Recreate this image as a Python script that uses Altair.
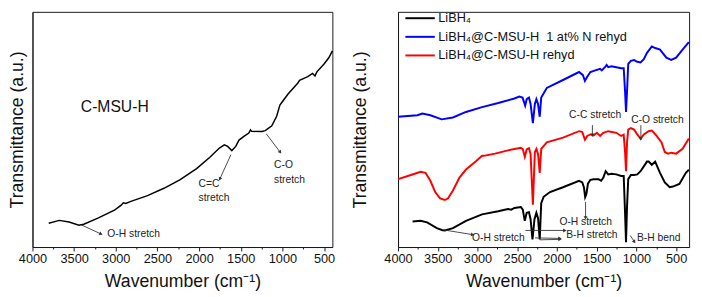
import math
import altair as alt
import pandas as pd

FONT = "Liberation Sans"

# ---------------- data ----------------
# left panel: C-MSU-H
cmsu_wn = [3805, 3679, 3561, 3443, 3384, 3208, 3011, 2935, 2910, 2880, 2819, 2619, 2422, 2227,
           2030, 1874, 1756, 1697, 1657, 1607, 1560, 1521, 1462, 1403, 1383, 1370, 1245, 1206,
           1127, 1069, 1030, 1003, 932, 814, 794, 696, 638, 609, 586, 500, 441, 400]
cmsu_t = [25, 28, 26.3, 23, 24, 30.7, 39, 44, 46.5, 45.8, 48, 54, 61.7, 70.7,
          82.3, 94, 104, 107.3, 105.7, 101.3, 105.7, 112.3, 116.3, 119.7, 123, 121.5, 121.3, 122.3,
          127.3, 137.3, 149, 152.3, 160.7, 172.3, 175, 179, 182.3, 179.7, 184, 192.3, 199, 206]

# right panel
series_names = ["LiBH\u2084", "LiBH\u2084@C-MSU-H \u00a01 at% N rehyd", "LiBH\u2084@C-MSU-H rehyd"]
series_colors = ["#000000", "#0000ff", "#ff0000"]

libh4_wn = [3817, 3716, 3634, 3512, 3440, 3410, 3309, 3145, 2943, 2739, 2617, 2576, 2535, 2454,
            2430, 2405, 2381, 2352, 2332, 2308, 2283, 2259, 2238, 2217, 2198, 2168, 2088, 1924,
            1722, 1681, 1660, 1645, 1630, 1610, 1579, 1538, 1477, 1444, 1416, 1387, 1355, 1314,
            1253, 1192, 1160, 1143, 1131, 1118, 1103, 1070, 1029, 989, 948, 907, 867, 846, 806,
            764, 703, 643, 581, 541, 459, 378, 340]
libh4_t = [26.7, 27.3, 25.7, 19.7, 17.5, 17.3, 19.7, 27.3, 34, 37.3, 39.7, 39, 40.7, 41.7,
           39, 27.3, 35.7, 36.3, 29, 8, 29, 35.7, 30, 8, 45.7, 52.3, 57.3, 62.3,
           69, 67.3, 62, 52, 55, 66, 70, 70.7, 70.7, 69, 72.3, 79, 75.7, 76.3,
           75.7, 74, 74, 35.7, 5, 42.3, 70.7, 75, 75, 75.7, 79, 84, 89, 89, 85.7,
           89, 77.3, 67.3, 62.3, 63, 65.7, 77.3, 80.5]

n_rehyd_wn = [4000, 3756, 3695, 3593, 3451, 3309, 3145, 2943, 2739, 2535, 2474, 2433, 2413, 2400,
              2381, 2352, 2332, 2303, 2278, 2259, 2238, 2217, 2198, 2128, 1924, 1722, 1673, 1648,
              1619, 1579, 1518, 1457, 1436, 1396, 1375, 1355, 1314, 1253, 1192, 1160, 1143, 1131,
              1118, 1103, 1070, 1029, 989, 948, 907, 867, 806, 764, 703, 623, 562, 500, 419, 340]
n_rehyd_t = [135.7, 137.3, 139, 137.3, 133, 135, 140.7, 145.7, 150, 154.7, 156.7, 155.7, 150.7, 147.3,
             154, 155.7, 149, 129, 149, 154, 149, 135.7, 155.7, 165.7, 174, 182.3, 179, 173,
             177.3, 182.3, 184, 185.7, 184, 187.3, 189.7, 187.3, 188.3, 187.3, 186.3, 186.3, 162.3, 140.7,
             162.3, 190.7, 194, 194.7, 193, 192.3, 195.7, 202.3, 209, 207.3, 205.7, 197.3, 195, 197.3, 205.7, 213.5]

rehyd_wn = [4000, 3838, 3716, 3654, 3593, 3532, 3471, 3410, 3370, 3309, 3227, 3145, 3023, 2943,
            2922, 2779, 2617, 2454, 2430, 2405, 2381, 2352, 2332, 2303, 2278, 2259, 2238, 2217,
            2198, 2128, 1924, 1722, 1681, 1648, 1619, 1579, 1538, 1497, 1457, 1416, 1355, 1253,
            1192, 1160, 1143, 1131, 1118, 1103, 1070, 1029, 989, 948, 907, 846, 806, 745, 684,
            643, 602, 562, 500, 419, 340]
rehyd_t = [70.7, 75, 78.3, 77.3, 69, 57.3, 50.7, 49, 50.7, 59, 72.3, 80.7, 89, 95,
           95, 97.3, 100.7, 103.3, 102, 94, 101.7, 103, 97, 44, 99, 102.3, 97, 77.3,
           102.3, 109, 114, 120.7, 119.7, 111.7, 115.7, 117.3, 116.3, 119, 115.7, 119, 120.7, 119,
           115.7, 117, 99, 79, 109, 122.3, 124, 122.3, 117.3, 113, 117.3, 120.7, 121.3, 115.7, 109,
           99, 97.3, 98.3, 97.3, 102.3, 113]

# annotations: left panel
left_label = ["C-MSU-H"]
left_label_wn = [3420]
left_label_t = [147]
left_notes = ["C=C", "stretch", "C-O", "stretch", "O-H stretch"]
left_notes_wn = [2007, 2007, 1100, 1100, 3102]
left_notes_t = [66, 51, 86, 70, 14]
left_arrow_wn1 = [3408, 1618, 1194]
left_arrow_t1 = [23, 97, 119]
left_arrow_wn2 = [3184, 1748, 1030]
left_arrow_t2 = [14, 72, 100]

# annotations: right panel
right_notes = ["C-C stretch", "C-O stretch", "O-H stretch", "B-H stretch", "B-H bend", "O-H stretch"]
right_notes_wn = [1847, 1066, 1969, 1884, 993, 3068]
right_notes_t = [137, 132, 26, 13, 9, 9]
right_arrow_wn1 = [1554, 944, 1640, 2397, 2275, 2215, 1078, 3435]
right_arrow_t1 = [127, 127, 47, 17.3, 9.5, 7.5, 12, 18]
right_arrow_wn2 = [1554, 944, 1640, 1908, 1969, 1969, 1029, 3068]
right_arrow_t2 = [117, 113, 31, 17.3, 9, 8, 6, 13]

# ---------------- layout ----------------
LW, RW, H = 306, 297, 240
L_DOM, R_DOM = [4000, 400], [4000, 337]
L_Y, R_Y = [0, 247], [0, 245]
L_TICKS = list(range(4000, 399, -250))
R_TICKS = list(range(4000, 336, -250))
XTITLE = "Wavenumber (cm\u207b\u00b9)"
YTITLE = "Transmittance (a.u.)"
INK = "#1a1a1a"


def xaxis(vals):
    return alt.Axis(values=vals, format="d",
                    labelExpr="datum.value % 500 === 0 ? datum.label : ''",
                    tickSize={"condition": {"test": "datum.value % 500 === 0", "value": 4}, "value": 2},
                    labelOverlap=False, labelFlush=False, grid=False,
                    labelFontSize=13, labelPadding=2, titleFontSize=18, titlePadding=7,
                    titleFontWeight="normal")


def yaxis(pad):
    return alt.Axis(labels=False, ticks=False, grid=False, title=YTITLE,
                    titleFontSize=18, titlePadding=pad, titleFontWeight="normal")


def arrow_frames(wn1, t1, wn2, t2, dom, ydom, width):
    kx = width / (dom[0] - dom[1])
    ky = H / (ydom[1] - ydom[0])
    angs = []
    for a, b, c, d in zip(wn1, t1, wn2, t2):
        dx = (a - c) * kx
        dy = (b - d) * ky
        angs.append(math.degrees(math.atan2(dx, -dy)) % 360)
    rules = pd.DataFrame({"wn": wn1, "t": t1, "wn2": wn2, "t2": t2})
    heads = pd.DataFrame({"wn": wn2, "t": t2, "ang": angs})
    return rules, heads


def panel(lines, color_enc, notes, label, arrows, dom, ydom, width, ypad, lw):
    X = alt.X("wn:Q", scale=alt.Scale(domain=dom, nice=False, zero=False), axis=xaxis(
        L_TICKS if dom == L_DOM else R_TICKS), title=XTITLE)
    Y = alt.Y("t:Q", scale=alt.Scale(domain=ydom, nice=False, zero=False), axis=yaxis(ypad))
    enc = {"x": X, "y": Y}
    if color_enc is not None:
        enc["color"] = color_enc
        enc["detail"] = "series:N"
    line = alt.Chart(lines).mark_line(strokeWidth=lw, color="black").encode(**enc)
    layers = [line]
    rules, heads = arrows
    layers.append(alt.Chart(rules).mark_rule(color="#333", strokeWidth=0.9).encode(
        x=X, y=Y, x2="wn2:Q", y2="t2:Q"))
    layers.append(alt.Chart(heads).mark_point(shape="triangle", filled=True, size=16,
                                              color="#333", opacity=1).encode(
        x=X, y=Y, angle=alt.Angle("ang:Q", scale=None)))
    layers.append(alt.Chart(notes).mark_text(align="left", baseline="middle", font=FONT,
                                             fontSize=10.5, color="#222").encode(
        x=X, y=Y, text="txt:N"))
    if label is not None:
        layers.append(alt.Chart(label).mark_text(align="left", baseline="middle", font=FONT,
                                                 fontSize=16, color="#111").encode(
            x=X, y=Y, text="txt:N"))
    return alt.layer(*layers).properties(width=width, height=H)


left_lines = pd.DataFrame({"wn": cmsu_wn, "t": cmsu_t})
left_notes_df = pd.DataFrame({"wn": left_notes_wn, "t": left_notes_t, "txt": left_notes})
left_label_df = pd.DataFrame({"wn": left_label_wn, "t": left_label_t, "txt": left_label})
left_arrows = arrow_frames(left_arrow_wn1, left_arrow_t1, left_arrow_wn2, left_arrow_t2, L_DOM, L_Y, LW)

frames = []
for name, wn, t in zip(series_names, [libh4_wn, n_rehyd_wn, rehyd_wn], [libh4_t, n_rehyd_t, rehyd_t]):
    frames.append(pd.DataFrame({"wn": wn, "t": t, "series": name}))
right_lines = pd.concat(frames, ignore_index=True)
right_notes_df = pd.DataFrame({"wn": right_notes_wn, "t": right_notes_t, "txt": right_notes})
right_arrows = arrow_frames(right_arrow_wn1, right_arrow_t1, right_arrow_wn2, right_arrow_t2, R_DOM, R_Y, RW)

color = alt.Color("series:N", scale=alt.Scale(domain=series_names, range=series_colors),
                  legend=alt.Legend(title=None, orient="none", legendX=389, legendY=0,
                                    symbolType="M-3,0H3", symbolSize=100, symbolStrokeWidth=2,
                                    labelFontSize=13, labelFont=FONT, labelColor="#111",
                                    labelOffset=12, rowPadding=5, padding=0, labelLimit=400))

left_chart = panel(left_lines, None, left_notes_df, left_label_df, left_arrows, L_DOM, L_Y, LW, 6, 1.5)
right_chart = panel(right_lines, color, right_notes_df, None, right_arrows, R_DOM, R_Y, RW, 29, 2)

chart = alt.hconcat(left_chart, right_chart, spacing=15).properties(padding=0).configure_view(
    stroke=INK, strokeWidth=1
).configure_axis(
    domainColor=INK, tickColor=INK, labelColor="#111", titleColor="#111",
    labelFont=FONT, titleFont=FONT, domainWidth=1
)

chart.save("out.html", embed_options={"renderer": "svg", "actions": False})
